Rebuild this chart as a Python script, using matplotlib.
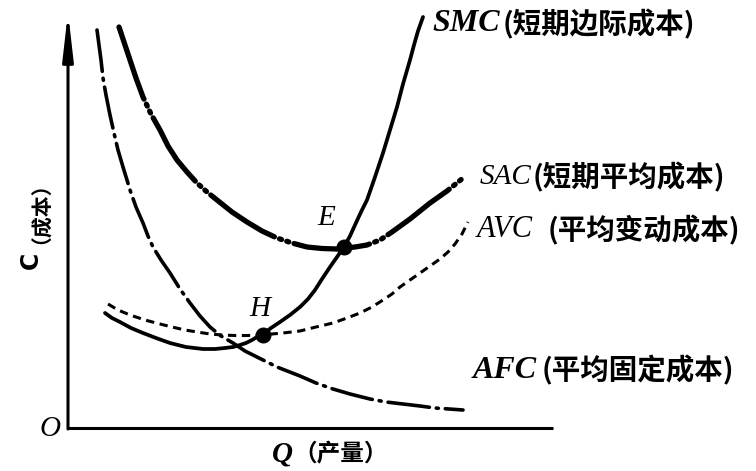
import matplotlib
matplotlib.use("Agg")
import matplotlib.pyplot as plt

plt.rcParams['lines.scale_dashes'] = False

# ---- data (Q = output, C = cost) ----
sac_q = [5.1, 5.6, 6.2, 6.8, 7.5, 8.3, 9.2, 10.0, 10.9, 11.9, 12.9, 13.9, 14.9, 16.4, 17.9,
         19.4, 20.9, 22.4, 23.9, 25.4, 26.9, 27.7, 28.7, 29.9, 31.2, 32.4, 34.2, 36.2, 37.9, 39.5]
sac_c = [40.1, 38.6, 36.8, 35.0, 33.1, 31.4, 29.8, 28.2, 26.8, 25.6, 24.5, 23.6, 22.8, 21.6, 20.6,
         19.7, 19.0, 18.5, 18.1, 17.95, 17.9, 18.0, 18.1, 18.3, 18.8, 19.6, 20.9, 22.5, 23.7, 25.0]

afc_q = [2.9, 3.1, 3.3, 3.5, 3.8, 4.2, 4.6, 5.0, 5.5, 5.9, 6.2, 6.8, 7.5, 8.0, 8.5, 9.3, 10.2,
         11.2, 12.2, 13.2, 14.2, 15.3, 16.5, 17.7, 18.9, 19.9, 20.9, 23.2, 24.8, 26.5, 28.2,
         30.2, 31.8, 33.5, 35.2, 36.7, 39.5]
afc_c = [39.8, 38.3, 36.8, 35.0, 33.3, 31.3, 29.5, 27.8, 26.1, 24.8, 23.8, 22.1, 20.5, 19.2, 18.1,
         16.8, 15.5, 13.9, 12.5, 11.2, 10.1, 9.2, 8.5, 7.7, 7.1, 6.6, 6.1, 5.2, 4.5, 3.9, 3.4,
         2.9, 2.6, 2.4, 2.2, 2.0, 1.8]

smc_q = [3.7, 4.4, 5.2, 6.3, 7.5, 8.8, 10.2, 11.8, 13.5, 14.7, 15.7, 16.5, 17.2, 17.8, 18.4,
         18.9, 19.5, 20.3, 21.2, 22.2, 23.2, 24.0, 24.7, 25.4, 26.2, 26.9, 27.6, 28.2, 28.7,
         29.3, 29.9, 30.7, 31.5, 32.2, 32.9, 33.5, 34.2, 34.6, 35.0, 35.5]
smc_c = [11.5, 11.0, 10.6, 10.0, 9.5, 9.0, 8.5, 8.1, 7.9, 7.9, 8.0, 8.1, 8.3, 8.5, 8.8,
         9.1, 9.4, 10.0, 10.6, 11.3, 12.1, 12.9, 13.8, 14.9, 16.1, 17.1, 18.1, 19.2, 20.3,
         21.6, 22.8, 25.1, 27.5, 29.8, 32.1, 34.4, 36.8, 38.3, 39.7, 41.1]

avc_q = [4.0, 5.0, 6.2, 7.7, 9.2, 10.4, 11.7, 12.9, 14.2, 15.4, 16.7, 18.0, 19.4, 20.4, 21.5,
         23.2, 24.8, 26.5, 27.9, 29.2, 30.4, 31.5, 32.4, 33.2, 34.2, 35.2, 36.2, 37.2, 38.0,
         38.7, 39.4, 40.0]
avc_c = [12.4, 11.8, 11.3, 10.8, 10.4, 10.1, 9.8, 9.6, 9.4, 9.3, 9.25, 9.25, 9.3, 9.4, 9.5,
         9.7, 10.1, 10.5, 11.0, 11.5, 12.1, 12.8, 13.4, 14.1, 14.8, 15.5, 16.2, 16.9, 17.6,
         18.4, 19.4, 20.6]

point_names = ["E", "H"]
point_q = [27.6, 19.5]
point_c = [18.05, 9.35]

curve_latin = ["SMC", "SAC", "AVC", "AFC"]
curve_cjk = ["(短期边际成本)", "(短期平均成本)", "(平均变动成本)", "(平均固定成本)"]

x_name, x_cjk = "Q", "（产量）"
y_name, y_cjk = "C", "（成本）"

# ---- figure ----
fig = plt.figure(figsize=(7.56, 4.71), dpi=100)
ax = fig.add_axes([0, 0, 1, 1])
ax.set_xlim(-6.8, 68.8)
ax.set_ylim(-4.3, 42.8)
ax.axis('off')

serif = ['Liberation Serif', 'DejaVu Serif']
cjk = ['Noto Sans CJK SC', 'DejaVu Sans']

# axes
ax.plot([0, 48.5], [0, 0], color='black', lw=2.2, solid_capstyle='butt')
ax.annotate('', xy=(0, 41.6), xytext=(0, -0.1),
            arrowprops=dict(arrowstyle='-|>,head_length=1.4,head_width=0.16',
                            mutation_scale=20, lw=2.2, color='black',
                            shrinkA=0, shrinkB=0))

# curves
ax.plot(sac_q, sac_c, color='black', lw=3.8, dash_capstyle='round', solid_joinstyle='round',
        dashes=(55, 4, 1.5, 4, 1.5, 4))
ax.plot(afc_q, afc_c, color='black', lw=2.6, dash_capstyle='round',
        dashes=(30, 5, 1.5, 5))
ax.plot(smc_q, smc_c, color='black', lw=2.7, solid_capstyle='round', solid_joinstyle='round')
ax.plot(avc_q, avc_c, color='black', lw=2.2, dashes=(6, 4))

# points
ax.scatter(point_q, point_c, s=110, color='black', zorder=5)
ax.text(point_q[0] - 1.8, point_c[0] + 2.9, point_names[0], family=serif, style='italic',
        fontsize=21, ha='center', va='center')
ax.text(point_q[1] - 0.3, point_c[1] + 2.6, point_names[1], family=serif, style='italic',
        fontsize=21, ha='center', va='center')

# curve labels
lab_x_latin = [36.4, 41.2, 40.9, 40.5]
lab_x_cjk = [43.5, 46.5, 48.0, 47.4]
lab_y = [40.4, 25.1, 19.8, 5.8]
weights = ['bold', 'normal', 'normal', 'bold']
latin_sizes = [23, 21, 22, 23]
for name, zh, xl, xc, y, w, fs in zip(curve_latin, curve_cjk, lab_x_latin, lab_x_cjk,
                                      lab_y, weights, latin_sizes):
    ax.text(xl, y, name, family=serif, style='italic', weight=w, fontsize=fs,
            ha='left', va='center')
    ax.text(xc, y, zh, family=cjk, weight='bold', fontsize=20.5, ha='left', va='center')

# axis labels
ax.text(-1.8, -0.1, "O", family=serif, style='italic', fontsize=21, ha='center', va='center')
ax.text(20.4, -2.6, x_name, family=serif, style='italic', weight='bold', fontsize=21,
        ha='left', va='center')
ax.text(22.5, -2.6, x_cjk, family=cjk, weight='bold', fontsize=17, ha='left', va='center')
ax.text(-3.7, 16.8, y_name, family=['DejaVu Sans'], weight='bold', fontsize=17, rotation=90,
        ha='center', va='center')
ax.text(-3.8, 22.6, y_cjk, family=cjk, weight='bold', fontsize=15, rotation=90,
        ha='center', va='center')

fig.savefig("out.png", dpi=100, facecolor='white')
